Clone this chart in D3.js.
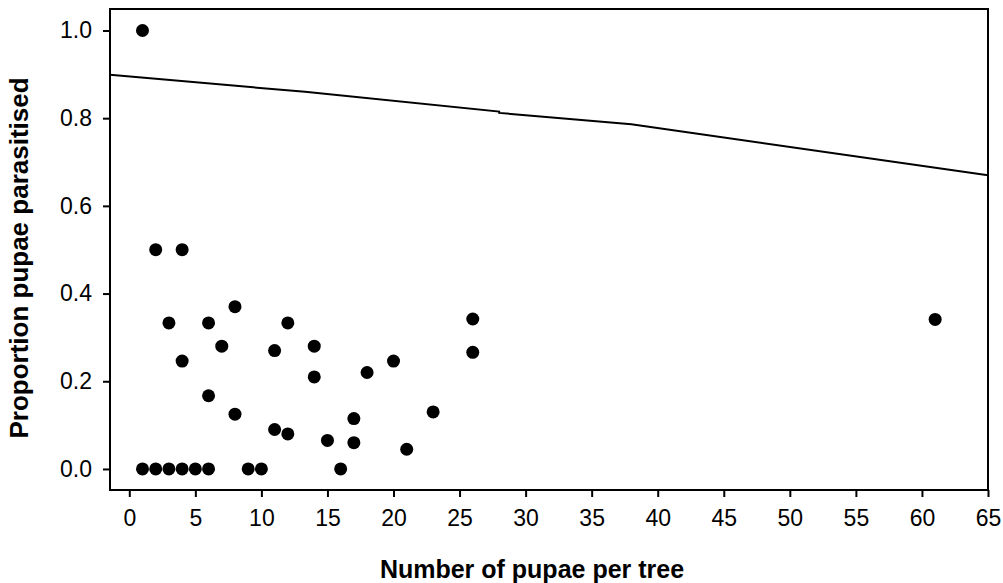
<!DOCTYPE html>
<html>
<head>
<meta charset="utf-8">
<script src="https://cdn.jsdelivr.net/npm/d3@7"></script>
<style>
  body { margin: 0; background: #fff; }
  svg { display: block; }
</style>
</head>
<body>
<div id="chart"></div>
<script>
// pupae per tree vs proportion parasitised
const pupae = [1, 2, 4, 3, 6, 8, 7, 4, 11, 12, 14, 14, 18, 20, 6, 8, 11, 12, 15, 17, 17,
  1, 2, 3, 4, 5, 6, 9, 10, 16, 26, 26, 23, 21, 61];
const parasitised = [1.0, 0.5, 0.5, 0.333, 0.333, 0.37, 0.28, 0.246, 0.27, 0.333, 0.28, 0.21, 0.22, 0.246, 0.167, 0.125, 0.09, 0.08, 0.065, 0.115, 0.06,
  0, 0, 0, 0, 0, 0, 0, 0, 0, 0.342, 0.266, 0.13, 0.045, 0.341];

// fitted curve
const fitX = [-1.46, 13.3, 28, 28, 38, 65];
const fitY = [0.899, 0.860, 0.815, 0.812, 0.786, 0.670];

const xTicks = [0, 5, 10, 15, 20, 25, 30, 35, 40, 45, 50, 55, 60, 65];
const yTicks = [0, 0.2, 0.4, 0.6, 0.8, 1.0];

const width = 1003, height = 583;
const mLeft = 110, mRight = 988, mTop = 9, mBottom = 490;

const svg = d3.select("#chart").append("svg")
  .attr("width", width)
  .attr("height", height)
  .style("font-family", "Arial, 'Liberation Sans', sans-serif");

const x = d3.scaleLinear().domain([-1.46, 65]).range([mLeft, mRight]);
const y = d3.scaleLinear().domain([-0.048, 1.049]).range([mBottom, mTop]);

svg.append("g")
  .attr("transform", `translate(0,${mBottom})`)
  .call(d3.axisBottom(x).tickValues(xTicks).tickSize(7).tickPadding(13).tickFormat(d3.format("d")))
  .call(g => g.select(".domain").remove())
  .call(g => g.selectAll("line").attr("stroke", "#000").attr("stroke-width", 2))
  .call(g => g.selectAll("text").attr("font-size", 23).attr("fill", "#000"));

svg.append("g")
  .attr("transform", `translate(${mLeft},0)`)
  .call(d3.axisLeft(y).tickValues(yTicks).tickSize(7).tickPadding(11).tickFormat(d3.format(".1f")))
  .call(g => g.select(".domain").remove())
  .call(g => g.selectAll("line").attr("stroke", "#000").attr("stroke-width", 2))
  .call(g => g.selectAll("text").attr("font-size", 23).attr("fill", "#000"));

// frame
svg.append("rect")
  .attr("x", mLeft).attr("y", mTop)
  .attr("width", mRight - mLeft).attr("height", mBottom - mTop)
  .attr("fill", "none").attr("stroke", "#000").attr("stroke-width", 2);

const fit = fitX.map((d, i) => [d, fitY[i]]);
svg.append("path")
  .datum(fit)
  .attr("fill", "none")
  .attr("stroke", "#000")
  .attr("stroke-width", 2)
  .attr("d", d3.line().x(d => x(d[0])).y(d => y(d[1])));

svg.append("g")
  .selectAll("circle")
  .data(pupae.map((d, i) => [d, parasitised[i]]))
  .join("circle")
  .attr("cx", d => x(d[0]))
  .attr("cy", d => y(d[1]))
  .attr("r", 6.5)
  .attr("fill", "#000");

svg.append("text")
  .attr("x", 532)
  .attr("y", 578)
  .attr("text-anchor", "middle")
  .attr("font-size", 25)
  .attr("font-weight", "bold")
  .text("Number of pupae per tree");

svg.append("text")
  .attr("transform", "translate(28,258) rotate(-90)")
  .attr("text-anchor", "middle")
  .attr("font-size", 26)
  .attr("font-weight", "bold")
  .text("Proportion pupae parasitised");
</script>
</body>
</html>
